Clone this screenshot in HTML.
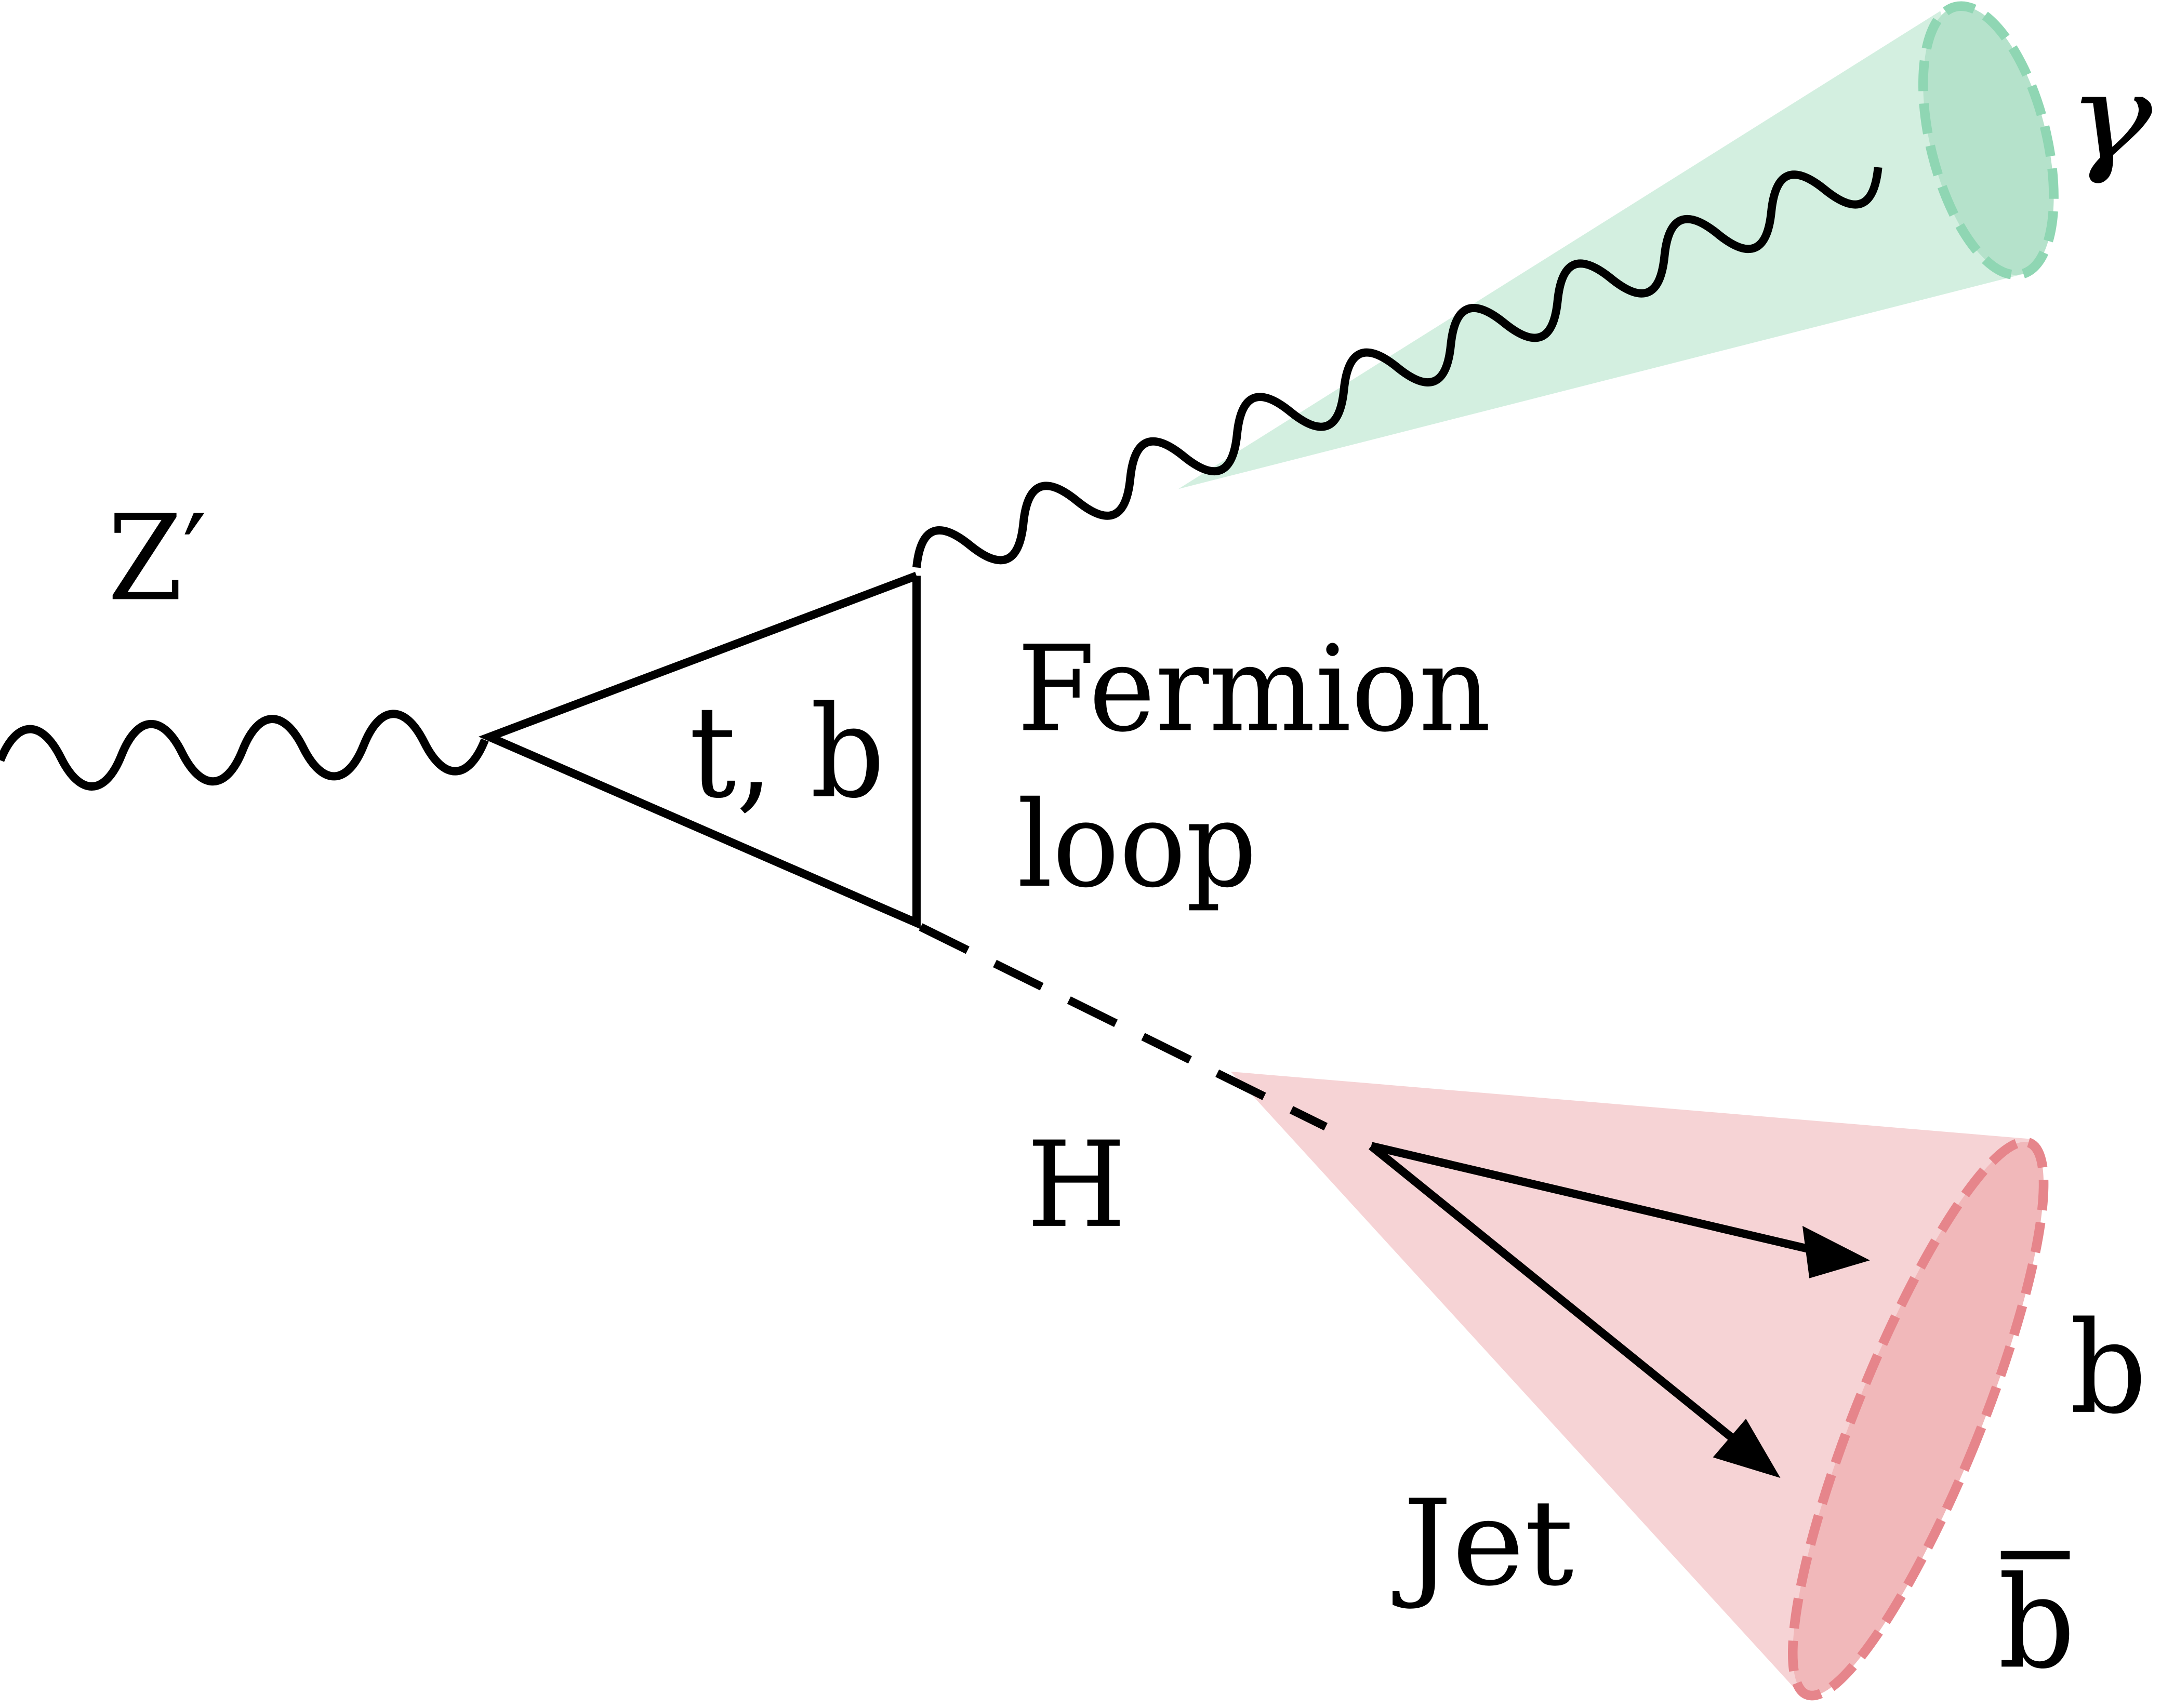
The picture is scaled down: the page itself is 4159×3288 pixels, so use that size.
<!DOCTYPE html>
<html><head><meta charset="utf-8"><style>html,body{margin:0;padding:0;background:#fff}svg{display:block}</style></head>
<body>
<svg width="4159" height="3288" viewBox="0 0 1568 1240" xmlns="http://www.w3.org/2000/svg">
<!-- green cone -->
<polygon points="855,355 1408,8 1472,198" fill="#d3efe0"/>
<ellipse cx="1443" cy="102" rx="42" ry="100" transform="rotate(-14 1443 102)" fill="#b5e2cb" stroke="#8fd6b3" stroke-width="7" stroke-dasharray="22,9"/>
<!-- red cone -->
<polygon points="893,778 1475,827 1308,1232" fill="#f6d3d5"/>
<ellipse cx="1392" cy="1030" rx="45" ry="216" transform="rotate(22 1392 1030)" fill="#f1b8ba" stroke="#e6858b" stroke-width="7" stroke-dasharray="22,9"/>
<!-- Z' wave -->
<path d="M0,552 c13,-29 31,-29 44,0 s31,29 44,0 s31,-29 44,0 s31,29 44,0 s31,-29 44,0 s31,29 44,0 s31,-29 44,0 s31,29 44,0" transform="rotate(-2.4 0 552)" fill="none" stroke="#000" stroke-width="6"/>
<!-- triangle -->
<polyline points="665,418 355,535 665,670 665,418" fill="none" stroke="#000" stroke-width="6"/>
<!-- photon wave -->
<g transform="translate(665,412) rotate(-22.6)">
<path d="M0,0 c14,-26 28,-26 42,0 s28,26 42,0 s28,-26 42,0 s28,26 42,0 s28,-26 42,0 s28,26 42,0 s28,-26 42,0 s28,26 42,0 s28,-26 42,0 s28,26 42,0 s28,-26 42,0 s28,26 42,0 s28,-26 42,0 s28,26 42,0 s28,-26 42,0 s28,26 42,0 s28,-26 42,0 s28,26 42,0" fill="none" stroke="#000" stroke-width="6"/>
</g>
<!-- Higgs dashed -->
<line x1="668" y1="673" x2="962" y2="818" stroke="#000" stroke-width="6" stroke-dasharray="38,22"/>
<!-- arrows -->
<line x1="995" y1="832" x2="1318" y2="908" stroke="#000" stroke-width="6"/>
<polygon points="1357,915 1308,890 1313,928" fill="#000"/>
<line x1="995" y1="832" x2="1262" y2="1048" stroke="#000" stroke-width="6"/>
<polygon points="1292,1073 1267,1030 1243,1058" fill="#000"/>
<!-- labels -->
<g font-family="DejaVu Serif, serif" fill="#000">
<text x="78" y="435" font-size="86" textLength="72" lengthAdjust="spacingAndGlyphs">Z′</text>
<text x="500" y="578" font-size="92" textLength="142" lengthAdjust="spacingAndGlyphs">t, b</text>
<text x="738" y="530" font-size="86" textLength="344" lengthAdjust="spacingAndGlyphs">Fermion</text>
<text x="738" y="643" font-size="86" textLength="174" lengthAdjust="spacingAndGlyphs">loop</text>
<text x="745" y="890" font-size="86" textLength="72" lengthAdjust="spacingAndGlyphs">H</text>
<text x="1018" y="1150" font-size="86" textLength="124" lengthAdjust="spacingAndGlyphs">Jet</text>
<text x="1502" y="1025" font-size="92" textLength="56" lengthAdjust="spacingAndGlyphs">b</text>
<text x="1450" y="1210" font-size="92" textLength="56" lengthAdjust="spacingAndGlyphs">b</text>
<rect x="1452" y="1126" width="50" height="6"/>
<text x="1500" y="115" font-size="86" font-style="italic" textLength="62" lengthAdjust="spacingAndGlyphs">γ</text>
</g>
</svg>
</body></html>
